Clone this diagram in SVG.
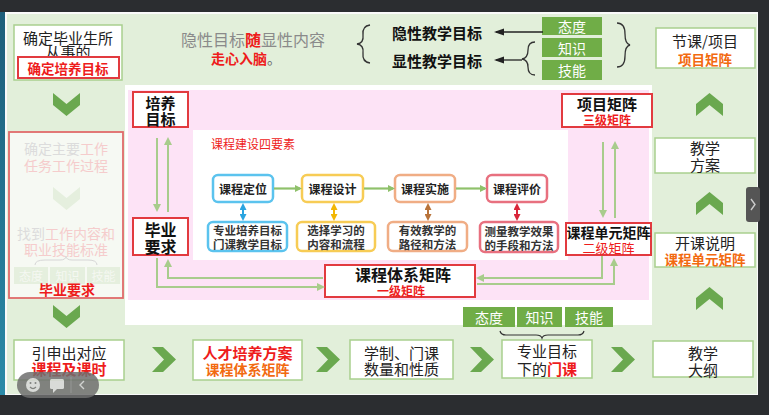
<svg xmlns="http://www.w3.org/2000/svg" width="769" height="415" viewBox="0 0 769 415">
<defs>
<style>
text{font-family:"Noto Sans CJK SC","Noto Sans",sans-serif;dominant-baseline:central;text-anchor:middle}
.gbox{fill:#fff;stroke:#a9d08e;stroke-width:1.5}
.rbox{fill:#fff;stroke:#e23a3f;stroke-width:2}
.chev{fill:#6aa84f}
.t15{font-size:15px;fill:#222}
.b{font-weight:bold}
.red{fill:#ee1c1c}
.org{fill:#f26a10}
.tag{fill:#70ad47}
.tagt{font-size:14px;fill:#fff}
.conn{fill:none;stroke:#a8cc8c;stroke-width:2}
.el{fill:#fff;stroke-width:2.5}
.et{font-size:12px;font-weight:bold;fill:#222}
.es{font-size:11.5px;font-weight:bold;fill:#333}
</style>
<path id="dch" d="M0,0 L13.5,11 L27,0 L27,12 L13.5,23 L0,12Z"/>
<path id="uch" d="M0,23 L13.5,12 L27,23 L27,11 L13.5,0 L0,11Z"/>
<path id="rch" d="M0,0 L11,0 L24,12.5 L11,25 L0,25 L12,12.5Z"/>
<marker id="ag" markerWidth="8" markerHeight="8" refX="6" refY="4" orient="auto" markerUnits="userSpaceOnUse"><path d="M0,0 L8,4 L0,8Z" fill="#a8cc8c"/></marker>
<marker id="ak" markerWidth="10" markerHeight="8" refX="8" refY="4" orient="auto" markerUnits="userSpaceOnUse"><path d="M0,0.5 L10,4 L0,7.5Z" fill="#222"/></marker>
<marker id="mb" markerWidth="7" markerHeight="7" refX="5" refY="3.5" orient="auto-start-reverse" markerUnits="userSpaceOnUse"><path d="M0,0 L7,3.5 L0,7Z" fill="#2aa4e0"/></marker>
<marker id="my" markerWidth="7" markerHeight="7" refX="5" refY="3.5" orient="auto-start-reverse" markerUnits="userSpaceOnUse"><path d="M0,0 L7,3.5 L0,7Z" fill="#f2b705"/></marker>
<marker id="mo" markerWidth="7" markerHeight="7" refX="5" refY="3.5" orient="auto-start-reverse" markerUnits="userSpaceOnUse"><path d="M0,0 L7,3.5 L0,7Z" fill="#b8733a"/></marker>
<marker id="mr" markerWidth="7" markerHeight="7" refX="5" refY="3.5" orient="auto-start-reverse" markerUnits="userSpaceOnUse"><path d="M0,0 L7,3.5 L0,7Z" fill="#d9263a"/></marker>
<marker id="ae" markerWidth="7" markerHeight="7" refX="5" refY="3.5" orient="auto" markerUnits="userSpaceOnUse"><path d="M0,0 L7,3.5 L0,7Z" fill="#8fc16b"/></marker>
<linearGradient id="teal" x1="0" y1="0" x2="0" y2="1"><stop offset="0" stop-color="#1d5e7a"/><stop offset="1" stop-color="#2b8aa8"/></linearGradient>
</defs>

<!-- frame -->
<rect x="0" y="0" width="769" height="415" fill="#2b2d30"/>
<rect x="0" y="12" width="5" height="383" fill="url(#teal)"/>
<rect x="5" y="12" width="753" height="383" fill="#fafafa"/>
<rect x="7" y="14" width="750" height="380" fill="#e2efda"/>

<!-- central panels -->
<g id="panel">
<rect x="125" y="85" width="527" height="240" fill="#fff"/>
<rect x="128" y="90" width="521" height="210" fill="#fde3f6"/>
<rect x="193" y="130" width="375" height="130" fill="#fff"/>
</g>

<!-- top left -->
<g id="n-top-left">
<rect x="14" y="25" width="108" height="55" class="gbox"/>
<text x="68" y="37" class="t15">确定毕业生所</text>
<text x="68" y="51" class="t15">从事的</text>
<rect x="18" y="57" width="101" height="21" class="rbox"/>
<text x="68" y="67.5" class="b red" font-size="13.5">确定培养目标</text>
</g>

<!-- top center text -->
<g id="n-top-center">
<text x="253" y="39" font-size="16" fill="#8a8a8a">隐性目标<tspan class="red b">随</tspan>显性内容</text>
<text x="246" y="58" font-size="14" class="b red">走心入脑<tspan fill="#666" font-weight="normal">。</tspan></text>
<path d="M370,25 Q362,26 363,35 Q364,43 357,44 Q364,45 363,53 Q362,62 370,63" fill="none" stroke="#333" stroke-width="1.3"/>
<text x="437" y="32" font-size="15" class="b" fill="#111">隐性教学目标</text>
<text x="437" y="60" font-size="15" class="b" fill="#111">显性教学目标</text>
</g>

<g id="n-tags-top">
<rect x="542" y="17" width="60" height="18" class="tag"/>
<text x="572" y="26" class="tagt">态度</text>
<rect x="542" y="38" width="60" height="19" class="tag"/>
<text x="572" y="47.5" class="tagt">知识</text>
<rect x="542" y="60" width="60" height="20" class="tag"/>
<text x="572" y="70" class="tagt">技能</text>
<path d="M535,42 Q528,42 528,50 Q528,58 522,59 Q528,60 528,67 Q528,75 535,75" fill="none" stroke="#333" stroke-width="1.3"/>
<path d="M617,23 Q625,23 625,34 Q625,44 630,45 Q625,46 625,56 Q625,67 617,67" fill="none" stroke="#333" stroke-width="1.3"/>
</g>

<!-- top right -->
<g id="n-jieke">
<rect x="656" y="28" width="99" height="40" class="gbox"/>
<text x="705" y="40.5" class="t15">节课/项目</text>
<text x="705" y="58.5" font-size="13.5" class="b org">项目矩阵</text>
</g>
<g id="n-jiaoxue-fangan">
<rect x="655" y="138" width="100" height="35" class="gbox"/>
<text x="705" y="147" class="t15">教学</text>
<text x="705" y="164.5" class="t15">方案</text>
</g>
<g id="n-kaike">
<rect x="655" y="233" width="100" height="34" class="gbox"/>
<text x="705" y="242" class="t15">开课说明</text>
<text x="705" y="259" font-size="13.5" class="b org">课程单元矩阵</text>
</g>

<!-- left faded column -->
<g id="n-faded">
<rect x="9" y="132" width="114" height="166" fill="#f6f9f3" stroke="#e06a6a" stroke-width="1.8"/>
<text x="66" y="148" font-size="14" fill="#dcdcdc">确定主要<tspan fill="#f5cccc">工作</tspan></text>
<text x="66" y="165" font-size="14" fill="#f5cccc">任务工作过程</text>
<use href="#dch" x="53" y="187" fill="#e5efde"/>
<text x="66" y="233" font-size="14" fill="#dcdcdc">找到<tspan fill="#f5cccc">工作内容和</tspan></text>
<text x="66" y="249" font-size="14" fill="#f5cccc">职业技能标准</text>
<path d="M35,265 Q35,260 45,260 L60,260 Q66,260 66,256 Q66,260 72,260 L88,260 Q97,260 97,265" fill="none" stroke="#d6d6d6" stroke-width="1"/>
<rect x="14" y="267" width="34" height="17" fill="#e5efde"/>
<rect x="50" y="267" width="35" height="17" fill="#e5efde"/>
<rect x="87" y="267" width="33" height="17" fill="#e5efde"/>
<text x="31" y="275.5" font-size="12" fill="#f5f8f2">态度</text>
<text x="67.5" y="275.5" font-size="12" fill="#f5f8f2">知识</text>
<text x="103.5" y="275.5" font-size="12" fill="#f5f8f2">技能</text>
<text x="67" y="289" font-size="14" class="b red">毕业要求</text>
</g>

<!-- chevrons -->
<g id="chevrons" class="chev">
<use href="#dch" x="53" y="93"/>
<use href="#dch" x="53" y="305"/>
<use href="#uch" x="696" y="93"/>
<use href="#uch" x="696" y="192"/>
<use href="#uch" x="696" y="287"/>
<use href="#rch" x="152" y="347"/>
<use href="#rch" x="316" y="347"/>
<use href="#rch" x="470" y="347"/>
<use href="#rch" x="611" y="347"/>
</g>

<!-- bottom row -->
<g id="n-yinshen">
<rect x="14" y="340" width="110" height="40" class="gbox"/>
<text x="69" y="352" class="t15">引申出对应</text>
<text x="69" y="368.5" font-size="15" class="b red">课程及课时</text>
</g>
<g id="n-rencai">
<rect x="193" y="340" width="109" height="40" class="gbox"/>
<text x="247.5" y="352" font-size="15" fill="#ee1c1c" font-weight="600">人才培养方案</text>
<text x="247.5" y="369" font-size="14" class="b org">课程体系矩阵</text>
</g>
<g id="n-xuezhi">
<rect x="350" y="340" width="103" height="39" class="gbox"/>
<text x="401.5" y="352" class="t15">学制、门课</text>
<text x="401.5" y="368" class="t15">数量和性质</text>
</g>
<g id="n-zhuanye">
<rect x="502" y="340" width="90" height="38" class="gbox"/>
<text x="547" y="350.5" class="t15">专业目标</text>
<text x="547" y="368" class="t15">下的<tspan class="red b">门课</tspan></text>
<path d="M500,331 Q501,335 506,335 L536,335 Q541,335 542,338 Q543,335 548,335 L578,335 Q583,335 584,331" fill="none" stroke="#333" stroke-width="1.2"/>
</g>
<g id="n-tags-bottom">
<rect x="463" y="307" width="52" height="20" class="tag"/>
<text x="489" y="317" class="tagt">态度</text>
<rect x="517" y="307" width="45" height="20" class="tag"/>
<text x="539.5" y="317" class="tagt">知识</text>
<rect x="565" y="307" width="48" height="20" class="tag"/>
<text x="589" y="317" class="tagt">技能</text>
</g>
<g id="n-dagang">
<rect x="653" y="341" width="100" height="36" class="gbox"/>
<text x="703" y="352" class="t15">教学</text>
<text x="703" y="369" class="t15">大纲</text>
</g>

<!-- central nodes -->
<g id="n-peiyang">
<rect x="133" y="92" width="55" height="35" class="rbox"/>
<text x="160.5" y="102" font-size="15" class="b" fill="#111">培养</text>
<text x="160.5" y="118" font-size="15" class="b" fill="#111">目标</text>
</g>
<g id="n-biye">
<rect x="133" y="218" width="55" height="37" class="rbox"/>
<text x="160.5" y="228.5" font-size="16" class="b" fill="#111">毕业</text>
<text x="160.5" y="246" font-size="16" class="b" fill="#111">要求</text>
</g>
<g id="n-xiangmu">
<rect x="562" y="94" width="90" height="33" class="rbox"/>
<text x="607" y="103.5" font-size="15" class="b" fill="#111">项目矩阵</text>
<text x="607" y="119" font-size="12" class="b red">三级矩阵</text>
</g>
<g id="n-danyuan">
<rect x="566" y="223" width="85" height="32" class="rbox"/>
<text x="608.5" y="231.5" font-size="14" class="b" fill="#111">课程单元矩阵</text>
<text x="608.5" y="247" font-size="13" class="red">二级矩阵</text>
</g>
<g id="n-tixi">
<rect x="325" y="265" width="150" height="32" class="rbox"/>
<text x="403" y="274" font-size="16" class="b" fill="#111">课程体系矩阵</text>
<text x="401" y="290" font-size="12" class="b red">一级矩阵</text>
</g>

<text x="253" y="143" font-size="12" fill="#ee2222">课程建设四要素</text>

<g id="n-dingwei"><rect x="213" y="175" width="60" height="27" rx="5" class="el" stroke="#5bc3ee"/><text x="243" y="188.5" class="et">课程定位</text></g>
<g id="n-sheji"><rect x="302" y="175" width="61" height="27" rx="5" class="el" stroke="#f7cc55"/><text x="332.5" y="188.5" class="et">课程设计</text></g>
<g id="n-shishi"><rect x="395" y="175" width="60" height="27" rx="5" class="el" stroke="#f0ad85"/><text x="425" y="188.5" class="et">课程实施</text></g>
<g id="n-pingjia"><rect x="487" y="175" width="60" height="27" rx="5" class="el" stroke="#e8707f"/><text x="517" y="188.5" class="et">课程评价</text></g>

<g id="n-mubiao"><rect x="208" y="222" width="79" height="29" rx="5" class="el" stroke="#5bc3ee"/><text x="247.5" y="230" class="es">专业培养目标</text><text x="247.5" y="244" class="es">门课教学目标</text></g>
<g id="n-neirong"><rect x="297" y="222" width="78" height="29" rx="5" class="el" stroke="#f7cc55"/><text x="336" y="230" class="es">选择学习的</text><text x="336" y="244" class="es">内容和流程</text></g>
<g id="n-lujing"><rect x="388" y="222" width="79" height="29" rx="5" class="el" stroke="#f0ad85"/><text x="427.5" y="230" class="es">有效教学的</text><text x="427.5" y="244" class="es">路径和方法</text></g>
<g id="n-celiang"><rect x="480" y="222" width="78" height="30" rx="5" class="el" stroke="#e8707f"/><text x="519" y="230.5" class="es">测量教学效果</text><text x="519" y="244.5" class="es">的手段和方法</text></g>

<!-- connectors -->
<g id="connectors">
<line x1="543" y1="32" x2="496" y2="32" stroke="#222" stroke-width="1.3" marker-end="url(#ak)"/>
<line x1="522" y1="60" x2="496" y2="60" stroke="#222" stroke-width="1.3" marker-end="url(#ak)"/>
<line x1="274" y1="188.5" x2="300" y2="188.5" stroke="#8fc16b" stroke-width="2.2" marker-end="url(#ae)"/>
<line x1="364" y1="188.5" x2="393" y2="188.5" stroke="#8fc16b" stroke-width="2.2" marker-end="url(#ae)"/>
<line x1="456" y1="188.5" x2="485" y2="188.5" stroke="#8fc16b" stroke-width="2.2" marker-end="url(#ae)"/>
<line x1="243" y1="205" x2="243" y2="219" stroke="#2aa4e0" stroke-width="2" marker-start="url(#mb)" marker-end="url(#mb)"/>
<line x1="334" y1="205" x2="334" y2="219" stroke="#f2b705" stroke-width="2" marker-start="url(#my)" marker-end="url(#my)"/>
<line x1="428" y1="205" x2="428" y2="219" stroke="#b8733a" stroke-width="2" marker-start="url(#mo)" marker-end="url(#mo)"/>
<line x1="517" y1="205" x2="517" y2="219" stroke="#d9263a" stroke-width="2" marker-start="url(#mr)" marker-end="url(#mr)"/>
<line x1="157" y1="138" x2="157" y2="210" class="conn" marker-end="url(#ag)"/>
<line x1="168" y1="212" x2="168" y2="139" class="conn" marker-end="url(#ag)"/>
<line x1="603" y1="142" x2="603" y2="216" class="conn" marker-end="url(#ag)"/>
<line x1="615" y1="218" x2="615" y2="143" class="conn" marker-end="url(#ag)"/>
<path d="M157,258 V287 H323" class="conn" marker-end="url(#ag)"/>
<path d="M323,278 H168 V261" class="conn" marker-end="url(#ag)"/>
<path d="M602,256 V278 H478" class="conn" marker-end="url(#ag)"/>
<path d="M477,284 H614 V260" class="conn" marker-end="url(#ag)"/>
</g>

<!-- screen overlays -->
<g id="overlay-toolbar" opacity="0.85">
<rect x="17" y="372" width="82" height="26" rx="13" fill="#6f6f6f"/>
<circle cx="33" cy="385" r="7" fill="#d8d8d8"/>
<circle cx="30.5" cy="383" r="1" fill="#6f6f6f"/>
<circle cx="35.5" cy="383" r="1" fill="#6f6f6f"/>
<path d="M30,387 Q33,390 36,387" stroke="#6f6f6f" stroke-width="1.2" fill="none"/>
<rect x="50" y="379" width="14" height="10" rx="1.5" fill="#d8d8d8"/>
<path d="M53,389 L53,393 L57,389Z" fill="#d8d8d8"/>
<line x1="71" y1="377" x2="71" y2="393" stroke="#888" stroke-width="1"/>
<path d="M84,381 L80,385 L84,389" stroke="#cfcfcf" stroke-width="1.4" fill="none"/>
</g>
<g id="overlay-tab">
<rect x="746" y="187" width="14" height="35" rx="3" fill="#555"/>
<path d="M751,199 L755,204.5 L751,210" stroke="#ccc" stroke-width="1.4" fill="none"/>
</g>
</svg>
